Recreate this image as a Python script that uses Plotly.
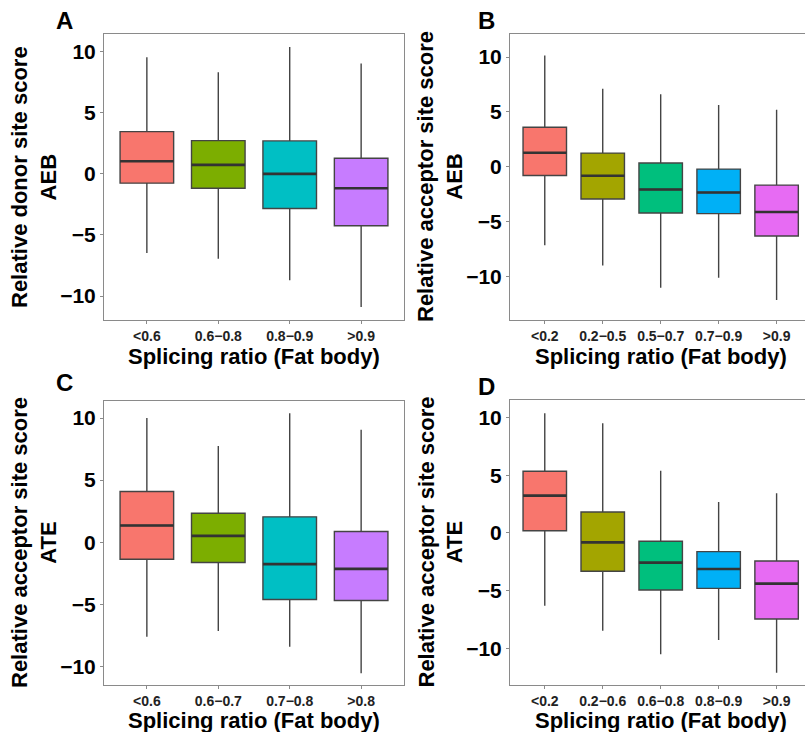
import plotly.graph_objects as go

# ---------------- data ----------------
# Panel A: Relative donor site score, AEB
a_cats = ["<0.6", "0.6−0.8", "0.8−0.9", ">0.9"]
a_upper = [9.54, 8.31, 10.38, 9.03]
a_q3 = [3.46, 2.72, 2.70, 1.28]
a_median = [1.04, 0.74, 0.0, -1.17]
a_q1 = [-0.76, -1.17, -2.83, -4.25]
a_lower = [-6.48, -6.94, -8.70, -10.90]

# Panel B: Relative acceptor site score, AEB
b_cats = ["<0.2", "0.2−0.5", "0.5−0.7", "0.7−0.9", ">0.9"]
b_upper = [10.13, 7.11, 6.62, 5.62, 5.19]
b_q3 = [3.60, 1.25, 0.34, -0.21, -1.67]
b_median = [1.28, -0.82, -2.07, -2.34, -4.12]
b_q1 = [-0.79, -2.93, -4.21, -4.27, -6.31]
b_lower = [-7.16, -8.99, -11.03, -10.12, -12.13]

# Panel C: Relative acceptor site score, ATE
c_cats = ["<0.6", "0.6−0.7", "0.7−0.8", ">0.8"]
c_upper = [10.00, 7.75, 10.38, 9.06]
c_q3 = [4.08, 2.33, 2.04, 0.86]
c_median = [1.34, 0.51, -1.77, -2.15]
c_q1 = [-1.37, -1.64, -4.61, -4.69]
c_lower = [-7.62, -7.16, -8.42, -10.56]

# Panel D: Relative acceptor site score, ATE
d_cats = ["<0.2", "0.2−0.6", "0.6−0.8", "0.8−0.9", ">0.9"]
d_upper = [10.38, 9.51, 5.40, 2.69, 3.44]
d_q3 = [5.35, 1.82, -0.72, -1.62, -2.43]
d_median = [3.24, -0.81, -2.57, -3.12, -4.39]
d_q1 = [0.20, -3.32, -4.94, -4.80, -7.46]
d_lower = [-6.30, -8.47, -10.52, -9.28, -12.11]

y_ticks = [-10, -5, 0, 5, 10]
colors4 = ["#F8766D", "#7CAE00", "#00BFC4", "#C77CFF"]
colors5 = ["#F8766D", "#A3A500", "#00BF7D", "#00B0F6", "#E76BF3"]

W, H = 805, 732
FONT = "Liberation Sans, Arial, sans-serif"
BOXW = 0.75

fig = go.Figure()


def px_x(p):
    return p / W


def px_y(p):
    return 1 - p / H


panels = [
    dict(key="", cats=a_cats, up=a_upper, q3=a_q3, med=a_median, q1=a_q1, lo=a_lower,
         colors=colors4, dom_x=(104, 404), dom_y=(34, 320), yr=(-11.96, 11.45), xr=None,
         mirror_y=True, ytitle="Relative donor site score<br>AEB", label="A",
         label_xy=(54, 20), ytitle_x=34, xtitle_gap=36),
    dict(key="2", cats=b_cats, up=b_upper, q3=b_q3, med=b_median, q1=b_q1, lo=b_lower,
         colors=colors5, dom_x=(510, 805), dom_y=(34, 320), yr=(-13.96, 12.1), xr=(0.4, 5.49),
         mirror_y=False, ytitle="Relative acceptor site score<br>AEB", label="B",
         label_xy=(476, 20), ytitle_x=440, xtitle_gap=36),
    dict(key="3", cats=c_cats, up=c_upper, q3=c_q3, med=c_median, q1=c_q1, lo=c_lower,
         colors=colors4, dom_x=(104, 404), dom_y=(401, 685), yr=(-11.5, 11.37), xr=None,
         mirror_y=True, ytitle="Relative acceptor site score<br>ATE", label="C",
         label_xy=(54, 382), ytitle_x=34, xtitle_gap=35),
    dict(key="4", cats=d_cats, up=d_upper, q3=d_q3, med=d_median, q1=d_q1, lo=d_lower,
         colors=colors5, dom_x=(510, 805), dom_y=(400, 685), yr=(-13.18, 11.53), xr=(0.4, 5.49),
         mirror_y=False, ytitle="Relative acceptor site score<br>ATE", label="D",
         label_xy=(476, 386), ytitle_x=440, xtitle_gap=35),
]

annotations = []
layout_axes = {}
for p in panels:
    k = p["key"]
    xa, ya = "x" + k, "y" + k
    n = len(p["cats"])
    pos = list(range(1, n + 1))
    for i in range(n):
        fig.add_trace(go.Box(
            x=[pos[i]], q1=[p["q1"][i]], median=[p["med"][i]], q3=[p["q3"][i]],
            lowerfence=[p["lo"][i]], upperfence=[p["up"][i]],
            width=BOXW, whiskerwidth=0, boxpoints=False,
            fillcolor=p["colors"][i], line=dict(color="#444444", width=1.4),
            xaxis=xa, yaxis=ya, showlegend=False, hoverinfo="skip",
        ))
    mx, my = [], []
    for i in range(n):
        mx += [pos[i] - BOXW / 2, pos[i] + BOXW / 2, None]
        my += [p["med"][i], p["med"][i], None]
    fig.add_trace(go.Scatter(x=mx, y=my, mode="lines",
                             line=dict(color="#333333", width=2.6),
                             xaxis=xa, yaxis=ya, showlegend=False, hoverinfo="skip"))

    xr = p["xr"] if p["xr"] else (0.4, n + 0.6)
    x0, x1 = p["dom_x"]
    y0, y1 = p["dom_y"]
    layout_axes["xaxis" + k] = dict(
        domain=[px_x(x0), px_x(x1)], anchor=ya, range=list(xr),
        tickmode="array", tickvals=pos, ticktext=p["cats"],
        showline=True, linecolor="#8a8a8a", linewidth=1, mirror=True,
        ticks="outside", ticklen=3, tickcolor="#8a8a8a", tickwidth=1,
        showgrid=False, zeroline=False, fixedrange=True,
        tickfont=dict(family=FONT, size=14, color="#222222", weight="bold"),
    )
    layout_axes["yaxis" + k] = dict(
        domain=[px_y(y1), px_y(y0)], anchor=xa, range=list(p["yr"]),
        tickmode="array", tickvals=y_ticks,
        showline=True, linecolor="#8a8a8a", linewidth=1, mirror=p["mirror_y"],
        ticks="outside", ticklen=3, tickcolor="#8a8a8a", tickwidth=1,
        showgrid=False, zeroline=False, fixedrange=True,
        tickfont=dict(family=FONT, size=21, color="#000000", weight="bold"),
    )
    # x title centred under the full category range
    full_center = (x0 + (x1 - x0) * ((n + 1) / 2 - xr[0]) / (xr[1] - xr[0]))
    annotations.append(dict(
        text="Splicing ratio (Fat body)", x=px_x(full_center), y=px_y(y1 + p["xtitle_gap"]),
        xref="paper", yref="paper", xanchor="center", yanchor="middle", showarrow=False,
        borderpad=0,
        font=dict(family=FONT, size=22, color="#000000", weight="bold"),
    ))
    annotations.append(dict(
        text=p["ytitle"], x=px_x(p["ytitle_x"]), y=px_y((y0 + y1) / 2),
        xref="paper", yref="paper", xanchor="center", yanchor="middle", showarrow=False,
        textangle=-90,
        font=dict(family=FONT, size=22, color="#000000", weight="bold"),
    ))
    annotations.append(dict(
        text=p["label"], x=px_x(p["label_xy"][0]), y=px_y(p["label_xy"][1]),
        xref="paper", yref="paper", xanchor="left", yanchor="middle", showarrow=False,
        font=dict(family=FONT, size=24, color="#000000", weight="bold"),
    ))

fig.update_layout(
    width=W, height=H,
    margin=dict(l=0, r=0, t=0, b=0),
    paper_bgcolor="white", plot_bgcolor="white",
    annotations=annotations,
    **layout_axes,
)

fig.write_html(
    "out.html",
    config={"displayModeBar": False},
    post_script="document.body.style.margin='0';document.body.style.overflow='hidden';",
)
